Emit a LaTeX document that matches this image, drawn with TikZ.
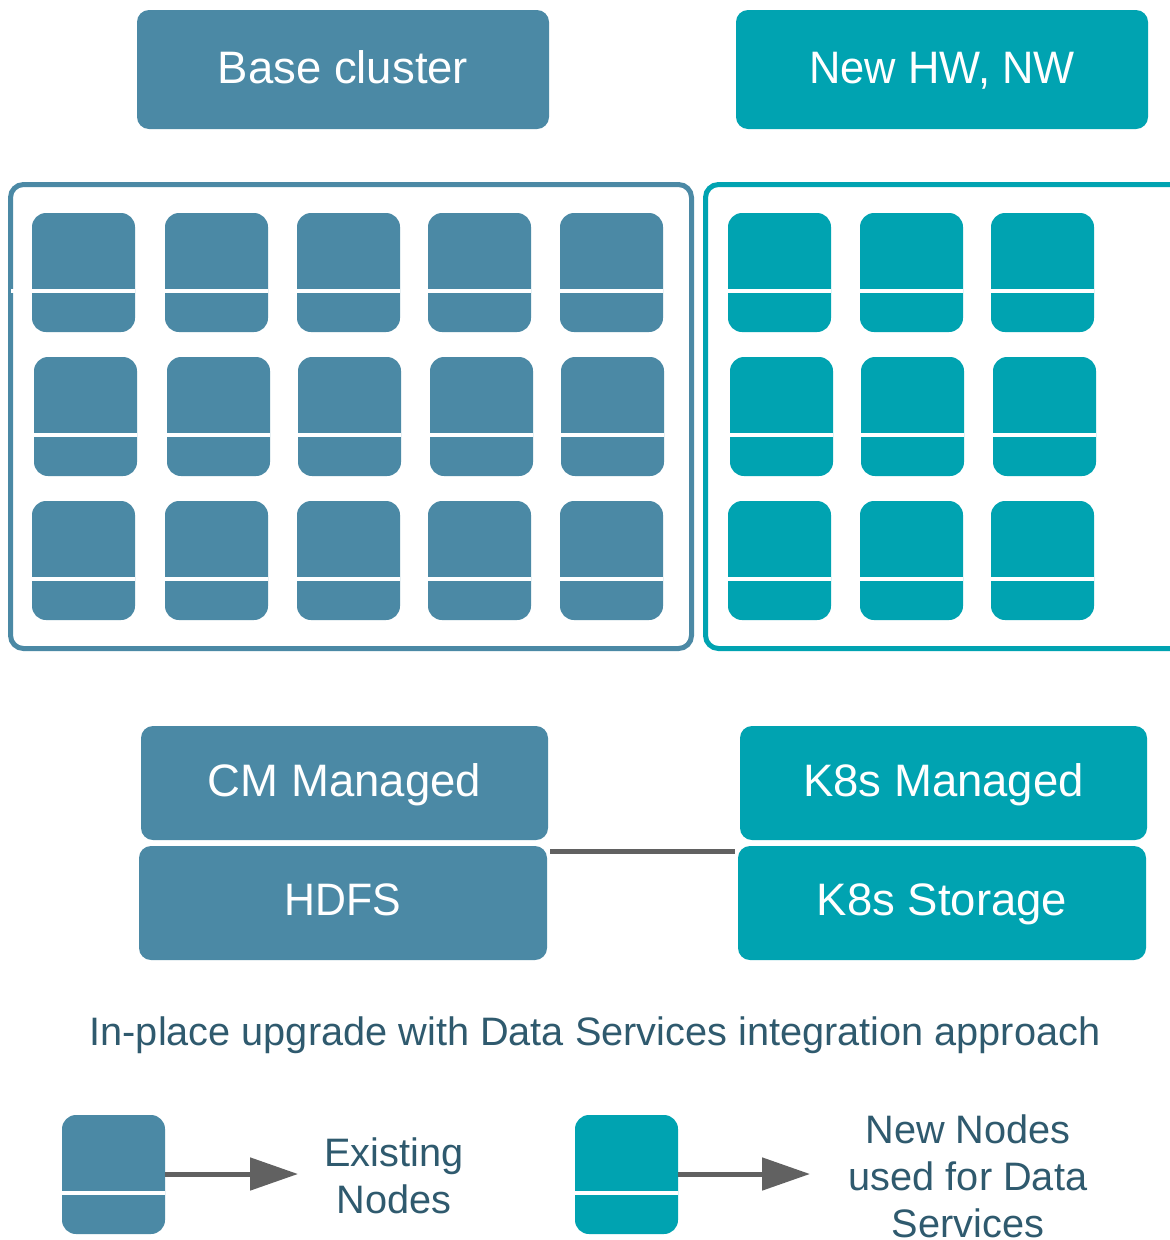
\documentclass[tikz,border=0pt]{standalone}
\usepackage{graphicx}
\usepackage{fontspec}
\setmainfont{Liberation Sans}
\usetikzlibrary{arrows.meta,calc}
\definecolor{bluec}{HTML}{4B89A5}
\definecolor{tealc}{HTML}{00A3B1}
\definecolor{grayc}{HTML}{616161}
\definecolor{textc}{HTML}{2F5A6E}
\tikzset{
  labelbox/.style={fill=#1,rounded corners=12pt,inner sep=0pt,outer sep=0pt,anchor=north west,text=white,text height=27pt,text depth=0pt,font=\fontsize{45.5}{50}\selectfont},
  srv/.style={fill=#1,rounded corners=14pt,inner sep=0pt,outer sep=0pt,minimum width=103pt,minimum height=119pt,anchor=north west},
  frameb/.style={draw=#1,line width=5pt,rounded corners=13pt,fill=white,inner sep=0pt,outer sep=0pt,anchor=north west},
  conn/.style={draw=grayc,line width=5pt},
  arr/.style={draw=grayc,line width=5pt,-{Triangle[length=48pt,width=32pt,fill=grayc]}},
  captext/.style={text=textc,font=\fontsize{39.7}{47}\selectfont,align=center,inner sep=0pt}
}
\newcommand{\srvnode}[4]{%
  \node[srv=#4] (#1) at (#2,#3) {};
  \fill[white] ([yshift=-76pt]#1.north west) rectangle ([yshift=-80pt]#1.north east);
}
\begin{document}
\begin{tikzpicture}[x=1pt,y=-1pt]
\useasboundingbox (0,0) rectangle (1170,1240);
\begin{scope}
\clip (0,0) rectangle (1170,1240);
\fill[white] (0,0) rectangle (1170,1240);
% header boxes
\node[labelbox=bluec,minimum width=412pt,minimum height=119pt] (base) at (137,10) {Base cluster};
\node[labelbox=tealc,minimum width=412pt,minimum height=119pt] (newhw) at (736,10) {\scalebox{0.955}[1]{New HW, NW}};
% frames
\node[frameb=bluec,minimum width=681pt,minimum height=464pt] (fl) at (10.5,184.5) {};
\node[frameb=tealc,minimum width=500pt,minimum height=464pt] (fr) at (705.5,184.5) {};
% left grid
\srvnode{a1}{32}{213}{bluec}
\fill[white] ([shift={(-21pt,-76pt)}]a1.north west) rectangle ([yshift=-80pt]a1.north west);
\srvnode{a2}{165}{213}{bluec}
\srvnode{a3}{297}{213}{bluec}
\srvnode{a4}{428}{213}{bluec}
\srvnode{a5}{560}{213}{bluec}
\srvnode{b1}{34}{357}{bluec}
\srvnode{b2}{167}{357}{bluec}
\srvnode{b3}{298}{357}{bluec}
\srvnode{b4}{430}{357}{bluec}
\srvnode{b5}{561}{357}{bluec}
\srvnode{c1}{32}{501}{bluec}
\srvnode{c2}{165}{501}{bluec}
\srvnode{c3}{297}{501}{bluec}
\srvnode{c4}{428}{501}{bluec}
\srvnode{c5}{560}{501}{bluec}
% right grid
\srvnode{d1}{728}{213}{tealc}
\srvnode{d2}{860}{213}{tealc}
\srvnode{d3}{991}{213}{tealc}
\srvnode{e1}{730}{357}{tealc}
\srvnode{e2}{861}{357}{tealc}
\srvnode{e3}{993}{357}{tealc}
\srvnode{f1}{728}{501}{tealc}
\srvnode{f2}{860}{501}{tealc}
\srvnode{f3}{991}{501}{tealc}
% stacks
\node[labelbox=bluec,minimum width=407pt,minimum height=114pt] (cm) at (141,726) {CM Managed};
\node[labelbox=bluec,minimum width=408pt,minimum height=114pt,text height=25pt] (hdfs) at (139,846) {\scalebox{0.94}[1]{HDFS}};
\node[labelbox=tealc,minimum width=407pt,minimum height=114pt] (k8sm) at (740,726) {K8s Managed};
\node[labelbox=tealc,minimum width=408pt,minimum height=114pt,text height=25pt] (k8ss) at (738,846) {K8s Storage};
\draw[conn] ([shift={(3pt,-5pt)}]hdfs.north east) -- ([shift={(-3pt,-5pt)}]k8ss.north west);
% caption
\node[captext] (caption) at (595,1035) {In-place upgrade with Data Services integration approach};
% legend
\srvnode{lg1}{62}{1115}{bluec}
\srvnode{lg2}{575}{1115}{tealc}
\node[captext] (lt1) at (394,1176) {Existing\\Nodes};
\node[captext] (lt2) at (968,1176.5) {New Nodes\\used for Data\\Services};
\coordinate (e1end) at (298,1174);
\coordinate (e2end) at (810,1174);
\draw[arr] (lg1.east |- e1end) -- (e1end);
\draw[arr] (lg2.east |- e2end) -- (e2end);
\end{scope}
\end{tikzpicture}
\end{document}
